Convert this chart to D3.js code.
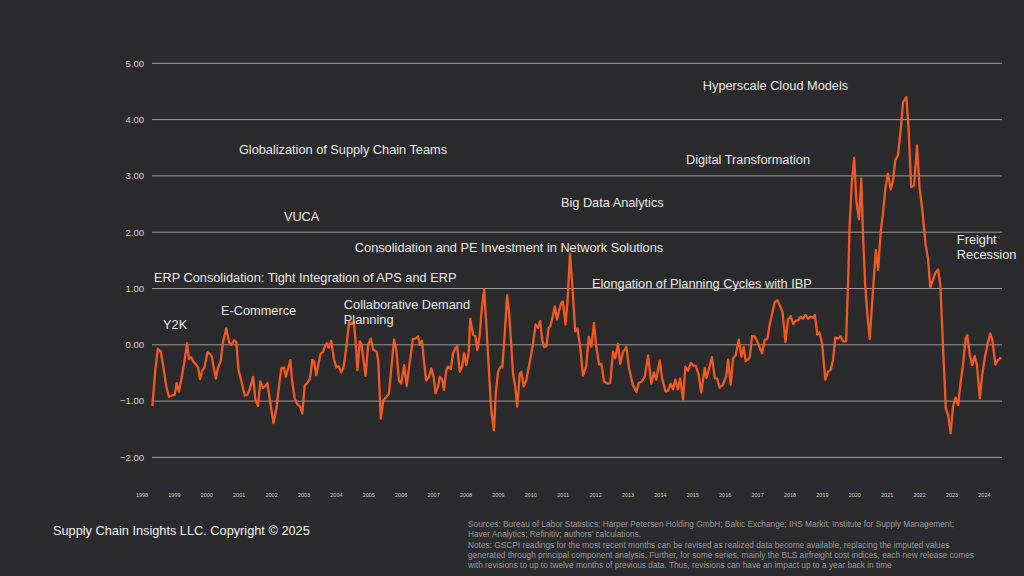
<!DOCTYPE html>
<html>
<head>
<meta charset="utf-8">
<script src="https://cdn.jsdelivr.net/npm/d3@7"></script>
<style>
html,body{margin:0;padding:0;background:#2b2b2d;}
svg{display:block;}
</style>
</head>
<body>
<svg id="chart" width="1024" height="576"></svg>
<script>
// Decimal-year positions and GSCPI values
const dates = [
1998.32,1998.41,1998.49,1998.58,1998.65,1998.75,1998.83,1998.93,1999.01,1999.07,1999.14,1999.21,1999.30,1999.39,1999.45,1999.52,1999.59,1999.68,1999.73,1999.79,1999.86,1999.93,
2000.02,2000.09,2000.16,2000.21,2000.28,2000.35,2000.43,2000.50,2000.60,2000.69,2000.76,2000.84,2000.91,2000.98,
2001.07,2001.17,2001.25,2001.32,2001.43,2001.50,2001.58,2001.65,2001.73,2001.81,2001.87,2001.94,
2002.01,2002.06,2002.15,2002.22,2002.30,2002.38,2002.44,2002.51,2002.58,2002.63,2002.71,2002.79,2002.88,2002.95,
2003.02,2003.10,2003.18,2003.26,2003.31,2003.38,2003.45,2003.51,2003.59,2003.64,2003.71,2003.76,2003.84,2003.93,
2004.00,2004.07,2004.15,2004.22,2004.31,2004.39,2004.46,2004.54,2004.59,2004.65,2004.72,2004.77,2004.90,2004.98,
2005.06,2005.14,2005.24,2005.29,2005.37,2005.45,2005.54,2005.62,2005.69,2005.78,2005.85,2005.93,
2006.00,2006.09,2006.17,2006.23,2006.31,2006.36,2006.44,2006.52,2006.58,2006.64,2006.70,2006.77,2006.86,2006.93,
2007.00,2007.06,2007.14,2007.19,2007.26,2007.32,2007.39,2007.44,2007.53,2007.60,2007.67,2007.73,2007.81,2007.88,2007.94,
2008.01,2008.08,2008.13,2008.22,2008.29,2008.35,2008.42,2008.49,2008.56,2008.63,2008.70,2008.78,2008.86,2008.92,2008.99,
2009.07,2009.12,2009.19,2009.27,2009.33,2009.40,2009.45,2009.52,2009.58,2009.66,2009.71,2009.78,2009.86,2009.94,
2010.00,2010.07,2010.15,2010.22,2010.29,2010.35,2010.41,2010.48,2010.55,2010.61,2010.69,2010.74,2010.81,2010.87,2010.94,2010.99,
2011.07,2011.13,2011.21,2011.29,2011.37,2011.44,2011.53,2011.61,2011.71,2011.79,2011.87,2011.95,
2012.02,2012.11,2012.18,2012.26,2012.36,2012.45,2012.54,2012.61,2012.69,2012.76,2012.85,2012.95,
2013.03,2013.15,2013.26,2013.33,2013.43,2013.52,2013.62,2013.72,2013.80,2013.87,2013.98,
2014.05,2014.16,2014.23,2014.32,2014.39,2014.46,2014.54,2014.61,2014.70,2014.77,2014.85,2014.94,
2015.01,2015.09,2015.18,2015.26,2015.37,2015.42,2015.52,2015.59,2015.68,2015.75,2015.83,2015.93,
2016.03,2016.09,2016.17,2016.24,2016.32,2016.42,2016.50,2016.57,2016.63,2016.70,2016.76,2016.83,2016.91,2016.99,
2017.06,2017.14,2017.22,2017.30,2017.37,2017.45,2017.53,2017.61,2017.68,2017.77,2017.86,2017.94,
2018.02,2018.10,2018.18,2018.26,2018.33,2018.40,2018.48,2018.56,2018.63,2018.71,2018.77,2018.84,2018.91,2018.99,
2019.09,2019.17,2019.26,2019.33,2019.40,2019.48,2019.56,2019.64,2019.73,2019.79,2019.84,2019.91,2019.98,
2020.05,2020.13,2020.20,2020.25,2020.32,2020.39,2020.46,2020.53,2020.58,2020.65,2020.72,2020.80,2020.87,2020.94,
2021.02,2021.11,2021.18,2021.25,2021.33,2021.42,2021.49,2021.59,2021.66,2021.74,2021.83,2021.92,
2022.00,2022.08,2022.18,2022.26,2022.33,2022.41,2022.49,2022.57,2022.64,2022.72,2022.81,2022.88,2022.96,
2023.03,2023.11,2023.19,2023.27,2023.34,2023.42,2023.47,2023.55,2023.62,2023.70,2023.77,2023.86,2023.93,
2024.01,2024.09,2024.18,2024.24,2024.34,2024.42,2024.52
];
const gscpi = [
-1.09,-0.45,-0.07,-0.12,-0.36,-0.74,-0.92,-0.90,-0.89,-0.68,-0.83,-0.63,-0.33,0.03,-0.25,-0.22,-0.30,-0.36,-0.40,-0.61,-0.46,-0.40,
-0.13,-0.16,-0.21,-0.40,-0.60,-0.40,-0.29,0.05,0.29,0.04,0.00,0.08,0.05,-0.45,
-0.65,-0.90,-0.89,-0.80,-0.57,-0.98,-1.09,-0.65,-0.77,-0.73,-0.68,-0.95,
-1.22,-1.39,-1.13,-0.77,-0.42,-0.40,-0.57,-0.42,-0.27,-0.63,-0.95,-1.05,-1.10,-1.22,
-0.73,-0.68,-0.61,-0.27,-0.29,-0.54,-0.33,-0.16,-0.12,-0.03,0.03,-0.05,0.07,-0.27,
-0.40,-0.38,-0.49,-0.40,-0.03,0.40,0.37,0.40,0.09,-0.45,0.06,0.02,-0.55,0.00,
0.11,-0.09,-0.12,-0.27,-1.31,-0.98,-0.93,-0.87,-0.45,0.09,-0.09,-0.63,
-0.69,-0.36,-0.73,-0.45,-0.12,0.10,0.11,0.15,0.00,0.07,-0.27,-0.63,-0.57,-0.42,
-0.57,-0.86,-0.74,-0.57,-0.61,-0.80,-0.45,-0.39,-0.43,-0.15,-0.06,-0.03,-0.48,-0.39,-0.15,
-0.36,-0.15,0.46,0.18,0.15,-0.09,0.15,0.65,0.99,0.33,-0.39,-1.16,-1.52,-0.86,-0.48,
-0.39,-0.40,0.15,0.88,0.57,-0.03,-0.51,-0.74,-1.10,-0.51,-0.48,-0.74,-0.63,-0.39,
-0.21,0.03,0.36,0.30,0.42,0.09,-0.04,-0.03,0.30,0.34,0.54,0.68,0.45,0.60,0.74,0.77,
0.36,0.74,1.62,0.98,0.24,0.29,-0.06,-0.55,-0.38,0.14,-0.03,0.39,
-0.03,-0.35,-0.34,-0.65,-0.69,-0.68,-0.12,-0.24,0.02,-0.34,-0.12,-0.04,
-0.41,-0.71,-0.84,-0.68,-0.65,-0.56,-0.19,-0.69,-0.49,-0.62,-0.28,
-0.59,-0.83,-0.82,-0.69,-0.79,-0.62,-0.79,-0.60,-0.97,-0.39,-0.46,-0.32,
-0.37,-0.37,-0.53,-0.85,-0.41,-0.59,-0.38,-0.22,-0.59,-0.60,-0.76,-0.71,
-0.56,-0.26,-0.71,-0.25,-0.19,0.09,-0.21,-0.04,-0.29,-0.26,-0.22,0.16,0.15,0.06,
-0.04,-0.15,0.09,0.10,0.35,0.56,0.76,0.79,0.71,0.58,0.05,0.45,
0.51,0.37,0.43,0.44,0.50,0.46,0.53,0.46,0.50,0.48,0.53,0.18,0.22,0.03,
-0.62,-0.48,-0.44,-0.26,0.13,0.11,0.15,0.06,0.06,1.06,2.12,2.89,3.32,
2.54,2.23,2.95,2.01,1.06,0.53,0.10,0.70,1.12,1.68,1.33,2.01,2.33,2.76,
3.04,2.76,2.92,3.28,3.36,3.84,4.31,4.40,3.84,2.80,2.83,3.54,
2.78,2.42,1.80,1.53,1.02,1.15,1.28,1.34,1.06,0.00,-1.13,-1.25,-1.57,
-1.10,-0.94,-1.07,-0.64,-0.36,0.11,0.17,-0.18,-0.36,-0.20,-0.36,-0.95,-0.54,
-0.24,-0.01,0.20,0.10,-0.35,-0.27,-0.23
];
const yTicks = [-2, -1, 0, 1, 2, 3, 4, 5];
const yearLabels = [1998,1999,2000,2001,2002,2003,2004,2005,2006,2007,2008,2009,2010,2011,2012,2013,2014,2015,2016,2017,2018,2019,2020,2021,2022,2023,2024];
const annotations = [
  {text: ["Hyperscale Cloud Models"], t: 2015.31, v: 4.57},
  {text: ["Globalization of Supply Chain Teams"], t: 2000.99, v: 3.44},
  {text: ["Digital Transformation"], t: 2014.79, v: 3.26},
  {text: ["Big Data Analytics"], t: 2010.93, v: 2.50},
  {text: ["VUCA"], t: 2002.38, v: 2.24},
  {text: ["Freight", "Recession"], t: 2023.15, v: 1.84},
  {text: ["Consolidation and PE Investment in Network Solutions"], t: 2004.57, v: 1.70},
  {text: ["ERP Consolidation: Tight Integration of APS and ERP"], t: 1998.37, v: 1.16},
  {text: ["Elongation of Planning Cycles with IBP"], t: 2011.89, v: 1.06},
  {text: ["E-Commerce"], t: 2000.44, v: 0.57},
  {text: ["Collaborative Demand", "Planning"], t: 2004.23, v: 0.68},
  {text: ["Y2K"], t: 1998.65, v: 0.32}
];
const copyright = "Supply Chain Insights LLC. Copyright © 2025";
const sourceLines = [
  "Sources: Bureau of Labor Statistics; Harper Petersen Holding GmbH; Baltic Exchange; IHS Markit; Institute for Supply Management;",
  "Haver Analytics; Refinitiv; authors’ calculations.",
  "Notes: GSCPI readings for the most recent months can be revised as realized data become available, replacing the imputed values",
  "generated through principal component analysis. Further, for some series, mainly the BLS airfreight cost indices, each new release comes",
  "with revisions to up to twelve months of previous data. Thus, revisions can have an impact up to a year back in time"
];

const svg = d3.select("#chart");
const W = 1024, H = 576;
svg.append("rect").attr("width", W).attr("height", H).attr("fill", "#2b2b2d");

const x = d3.scaleLinear().domain([1998, 2024]).range([142, 984.4]);
const y = d3.scaleLinear().domain([-2, 5]).range([457.4, 63.3]);
const font = "'Liberation Sans', Arial, sans-serif";

// gridlines
svg.append("g").selectAll("line").data(yTicks).join("line")
  .attr("x1", 152).attr("x2", 1002)
  .attr("y1", d => y(d)).attr("y2", d => y(d))
  .attr("stroke", "#9c9c9c").attr("stroke-width", 1);

// y labels
svg.append("g").selectAll("text").data(yTicks).join("text")
  .attr("x", 144).attr("y", d => y(d)).attr("dy", "0.35em")
  .attr("text-anchor", "end")
  .attr("font-family", font).attr("font-size", 9.5).attr("fill", "#d4d4d4")
  .text(d => d3.format(".2f")(d));

// x labels
svg.append("g").selectAll("text").data(yearLabels).join("text")
  .attr("x", d => x(d)).attr("y", 495).attr("dy", "0.35em")
  .attr("text-anchor", "middle")
  .attr("font-family", font).attr("font-size", 5.5).attr("fill", "#cfcfcf")
  .text(d => d);

// line
const pts = dates.map((t, i) => [t, gscpi[i]]);
const line = d3.line().x(d => x(d[0])).y(d => y(d[1]));
svg.append("path").datum(pts)
  .attr("d", line)
  .attr("fill", "none").attr("stroke", "#f15a22")
  .attr("stroke-width", 2.3).attr("stroke-linejoin", "round");

// annotations
const ann = svg.append("g");
annotations.forEach(a => {
  const tx = ann.append("text")
    .attr("x", x(a.t)).attr("y", y(a.v))
    .attr("font-family", font).attr("font-size", 12.75).attr("fill", "#e8e8e8");
  a.text.forEach((s, i) => {
    tx.append("tspan").attr("x", x(a.t)).attr("dy", i === 0 ? "0.2em" : "1.18em").text(s);
  });
});

svg.append("text").attr("x", 53).attr("y", 531).attr("dy", "0.3em")
  .attr("font-family", font).attr("font-size", 12.75).attr("fill", "#f2f2f2")
  .text(copyright);

svg.append("g").selectAll("text").data(sourceLines).join("text")
  .attr("x", 468).attr("y", (d, i) => 524 + i * 10.3).attr("dy", "0.35em")
  .attr("font-family", font).attr("font-size", 8.3).attr("fill", "#9a9a9a")
  .text(d => d);
</script>
</body>
</html>
